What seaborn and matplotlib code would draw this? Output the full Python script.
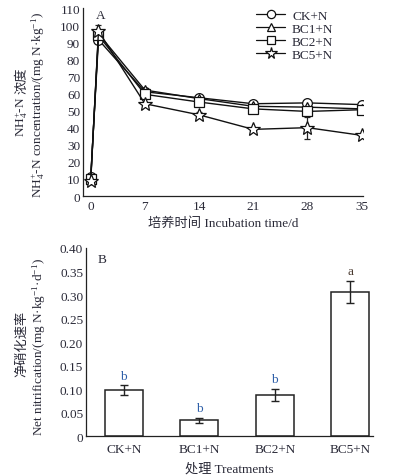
import numpy as np
import pandas as pd
import matplotlib
matplotlib.use("Agg")
import matplotlib.pyplot as plt
import seaborn as sns
from matplotlib.ticker import MultipleLocator, FixedLocator
from matplotlib.lines import Line2D

# ---- data ----
days = [0, 1, 7, 14, 21, 28, 35]
ck = [11, 91.5, 61, 57.5, 54, 54.5, 53.5]
bc1 = [10, 95, 62, 57, 52.5, 52, 51]
bc2 = [10, 94, 59.5, 55, 51, 49.5, 50.5]
bc5 = [8.5, 96.5, 54, 47.5, 39, 40, 35.5]
ck_err = [1.5, 2, 1, 1, 1, 1, 1]
bc1_err = [1.5, 2, 1, 1, 1, 1, 1]
bc2_err = [1.5, 2, 1, 1, 1, 1, 1]
bc5_err = [1.5, 3.5, 1, 1.5, 1, 6.5, 1]
series_names = ["CK+N", "BC1+N", "BC2+N", "BC5+N"]

treatments = ["CK+N", "BC1+N", "BC2+N", "BC5+N"]
nitri = [0.098, 0.034, 0.088, 0.307]
nitri_err = [0.010, 0.005, 0.013, 0.023]
letters = ["b", "b", "b", "a"]
letter_colors = ["#2e5fa8", "#2e5fa8", "#2e5fa8", "#4a3a30"]

sns.set_style("white")
plt.rcParams['font.family'] = ['Liberation Serif', 'Noto Sans CJK SC', 'DejaVu Sans']
plt.rcParams['mathtext.fontset'] = 'custom'
plt.rcParams['mathtext.rm'] = 'Liberation Serif'
plt.rcParams['mathtext.it'] = 'Liberation Serif:italic'
plt.rcParams['mathtext.bf'] = 'Liberation Serif:bold'
plt.rcParams['font.size'] = 9.5
txt = '#2a2a38'
plt.rcParams['text.color'] = txt
plt.rcParams['axes.labelcolor'] = txt
plt.rcParams['xtick.color'] = '#222222'
plt.rcParams['ytick.color'] = '#222222'
plt.rcParams['xtick.labelcolor'] = txt
plt.rcParams['ytick.labelcolor'] = txt

W, H = 398, 477
fig = plt.figure(figsize=(W / 100, H / 100), dpi=100)
ax1 = fig.add_axes([0.2085, 0.587, 0.704, 0.394])
ax2 = fig.add_axes([0.216, 0.0832, 0.721, 0.395])

def fx(px):
    return px / W

def fy(py):
    return 1 - py / H

# ---- top panel ----
rows = []
for name, vals in zip(series_names, [ck, bc1, bc2, bc5]):
    for d, v in zip(days, vals):
        rows.append({"day": d, "value": v, "treatment": name})
df = pd.DataFrame(rows)
markers = {"CK+N": "o", "BC1+N": "^", "BC2+N": "s", "BC5+N": "*"}
sizes_m = {"CK+N": 7, "BC1+N": 7.5, "BC2+N": 7, "BC5+N": 10}
errs = dict(zip(series_names, [ck_err, bc1_err, bc2_err, bc5_err]))
for name in series_names:
    sub = df[df.treatment == name]
    ax1.errorbar(sub.day, sub.value, yerr=errs[name], fmt='none', ecolor='#222222',
                 elinewidth=0.9, capsize=2.5, capthick=0.9, zorder=2)
sns.lineplot(data=df, x="day", y="value", hue="treatment", style="treatment",
             markers=markers, dashes=False, palette=["#111111"] * 4,
             markerfacecolor="white", markeredgecolor="#111111", markeredgewidth=0.9,
             linewidth=1.0, ax=ax1, legend=False, zorder=3)
for line, name in zip(ax1.lines[-4:], series_names):
    line.set_markersize(sizes_m[name])

handles = [Line2D([], [], color='#111111', lw=0.9, marker=markers[n],
                  markersize=sizes_m[n] * 0.85,
                  markerfacecolor='white', markeredgecolor='#111111', markeredgewidth=0.9)
           for n in series_names]
ax1.legend(handles, series_names, loc='upper left', bbox_to_anchor=(0.6, 1.02),
           frameon=False, handlelength=2.2, labelspacing=0.05, borderaxespad=0,
           handletextpad=0.5, fontsize=9.5)

ax1.set_xlim(-1, 35.2)
ax1.set_ylim(0, 110)
ax1.xaxis.set_major_locator(FixedLocator([0, 7, 14, 21, 28, 35]))
ax1.xaxis.set_minor_locator(MultipleLocator(3.5))
ax1.yaxis.set_major_locator(MultipleLocator(10))
ax1.yaxis.set_minor_locator(MultipleLocator(5))
ax1.set_xlabel('培养时间 Incubation time/d', fontsize=9.5, labelpad=3)
ax1.set_ylabel('')
ax1.text(0.045, 0.995, 'A', transform=ax1.transAxes, fontsize=9.5, va='top', ha='left')

# y label of top panel (two lines)
t1 = fig.text(fx(22), fy(117), 'NH$_4^{+}$-N', rotation=90, ha='center', va='center',
              fontsize=9.5, color=txt)
ax1.annotate('浓度', xy=(0.5, 1.0), xycoords=t1, xytext=(0, 2), textcoords='offset points',
             rotation=90, ha='center', va='bottom', fontsize=9.5, color=txt,
             annotation_clip=False)
fig.text(fx(38.5), fy(105), 'NH$_4^{+}$-N concentration/(mg N·kg$^{-1}$)', rotation=90,
         ha='center', va='center', fontsize=9.5, color=txt)

# ---- bottom panel ----
dfb = pd.DataFrame({"treatment": treatments, "rate": nitri})
sns.barplot(data=dfb, x="treatment", y="rate", color="white", edgecolor="#222222",
            linewidth=1.1, width=0.5, ax=ax2, errorbar=None)
xs = np.arange(len(treatments))
ax2.errorbar(xs, nitri, yerr=nitri_err, fmt='none', ecolor='#222222', elinewidth=1.0,
             capsize=3, capthick=1.0)
for x, v, e, l, c in zip(xs, nitri, nitri_err, letters, letter_colors):
    ax2.text(x, v + e + 0.008, l, ha='center', va='bottom', fontsize=9.5, color=c)
ax2.set_xlim(-0.5, 3.3)
ax2.set_ylim(0, 0.40)
ax2.set_yticks(np.arange(0, 0.401, 0.05))
ax2.yaxis.set_minor_locator(MultipleLocator(0.025))
ax2.set_yticklabels(['0'] + ['%.2f' % v for v in np.arange(0.05, 0.401, 0.05)])
ax2.set_xlabel('处理 Treatments', fontsize=9.5, labelpad=5)
ax2.set_ylabel('')
ax2.text(0.04, 0.975, 'B', transform=ax2.transAxes, fontsize=9.5, va='top', ha='left')

fig.text(fx(22), fy(344), '净硝化速率', rotation=90, ha='center', va='center',
         fontsize=9.5, color=txt)
fig.text(fx(39), fy(347), 'Net nitrification/(mg N·kg$^{-1}$·d$^{-1}$)', rotation=90,
         ha='center', va='center', fontsize=9.5, color=txt)

for ax in (ax1, ax2):
    sns.despine(ax=ax)
    for s in ('left', 'bottom'):
        ax.spines[s].set_color('#222222')
        ax.spines[s].set_linewidth(0.9)
    ax.tick_params(which='both', direction='in', labelsize=9.5, width=0.8, pad=2)
    ax.tick_params(which='major', length=3.5)
    ax.tick_params(which='minor', length=2)
ax1.tick_params(axis='x', which='both', pad=3)
ax2.tick_params(axis='x', which='both', length=0, pad=5)

fig.savefig("out.png", dpi=100)
